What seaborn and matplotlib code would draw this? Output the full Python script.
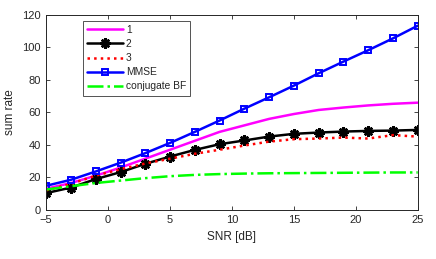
import numpy as np
import pandas as pd
import seaborn as sns
import matplotlib
matplotlib.use("Agg")
import matplotlib.pyplot as plt

# SNR points (markers every 2 dB)
snr = [-5, -3, -1, 1, 3, 5, 7, 9, 11, 13, 15, 17, 19, 21, 23, 25]

rate_1 = [13, 16.5, 21, 26, 31.5, 37, 42.5, 48, 52, 56, 59, 61.5, 63, 64.3, 65.3, 66]
rate_2 = [10.3, 13.7, 18.9, 23.2, 28.3, 32.8, 36.9, 40.4, 42.7, 45.1, 46.8, 47.6, 48.2, 48.6, 48.8, 49.2]
rate_3 = [12, 16, 21, 25, 28.5, 31.5, 34.5, 37, 39.6, 42, 43.5, 43.9, 44.5, 43.9, 46, 45.1]
rate_mmse = [14.8, 18.5, 23.6, 29, 34.9, 41.2, 48, 55, 62.3, 69.3, 76.5, 84.1, 91.3, 98.3, 105.6, 113.4]
rate_cbf = [12.5, 14.5, 16.5, 18, 19.5, 20.7, 21.5, 22, 22.3, 22.5, 22.6, 22.7, 22.8, 22.9, 23, 23]

sns.set_style("white")
plt.rcParams['font.family'] = ['Liberation Sans', 'DejaVu Sans']

fig, ax = plt.subplots(figsize=(4.36, 2.59), dpi=100)
fig.subplots_adjust(left=0.106, right=0.958, top=0.942, bottom=0.19)

sns.lineplot(x=snr, y=rate_1, ax=ax, color='#ff00ff', lw=1.8, label='1')
sns.lineplot(x=snr, y=rate_2, ax=ax, color='black', lw=1.8, marker=(8, 2, 0), markersize=7.5,
             markeredgecolor='black', markeredgewidth=1.8, label='2')
sns.lineplot(x=snr, y=rate_3, ax=ax, color='red', lw=1.8, linestyle=':', label='3')
sns.lineplot(x=snr, y=rate_mmse, ax=ax, color='blue', lw=1.8, marker='s', markersize=4.5,
             markerfacecolor='none', markeredgecolor='blue', markeredgewidth=1.4, label='MMSE')
sns.lineplot(x=snr, y=rate_cbf, ax=ax, color='#00ff00', lw=1.8, linestyle='-.', label='conjugate BF')

ax.set_xlim(-5, 25)
ax.set_ylim(0, 120)
ax.set_xticks([-5, 0, 5, 10, 15, 20, 25])
ax.set_yticks([0, 20, 40, 60, 80, 100, 120])
ax.tick_params(direction='in', bottom=True, left=True, top=True, right=True,
               labelsize=8, length=3, width=0.6, colors='#262626', pad=4)
for s in ax.spines.values():
    s.set_linewidth(0.7)
    s.set_color('#262626')
ax.set_xlabel('SNR [dB]', fontsize=8.5)
ax.set_ylabel('sum rate', fontsize=8.5)

leg = ax.legend(loc='upper left', bbox_to_anchor=(0.098, 0.97), borderaxespad=0,
                fontsize=7.4, handlelength=3.5, frameon=True, fancybox=False,
                edgecolor='#262626', borderpad=0.4, labelspacing=0.4, handletextpad=0.3)
leg.get_frame().set_linewidth(0.7)

fig.savefig('out.png', dpi=100)
